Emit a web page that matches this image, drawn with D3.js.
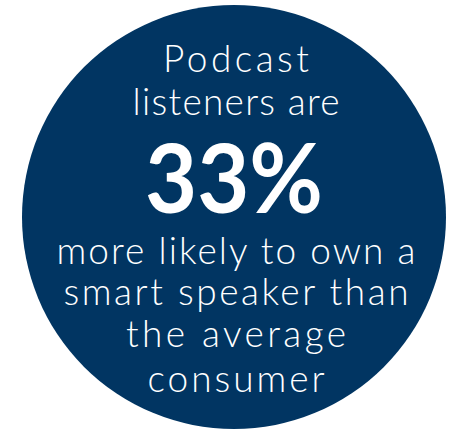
<!DOCTYPE html>
<html>
<head>
<meta charset="utf-8">
<script src="https://cdn.jsdelivr.net/npm/d3@7"></script>
<style>
  html, body { margin: 0; padding: 0; background: #ffffff; }
  svg { display: block; }
</style>
</head>
<body>
<script>
// ---- data ----
const topLines = ["Podcast", "listeners are"];
const statValue = 33;
const statSuffix = "%";
const bottomLines = ["more likely to own a", "smart speaker than", "the average", "consumer"];

// ---- layout (kept separate from data) ----
const W = 450, H = 431;
const circle = { cx: 234, cy: 217, r: 212 };
const textCenterX = 236;
const topBaselines = [72, 115];
const statBaseline = 213;
const bottomBaselines = [264, 305, 347, 392];
const topWidths = [146, 207];
const bottomWidths = [359, 345, 220, 177];
const statWidth = 178;
const navy = "#013562";

const svg = d3.select("body").append("svg")
  .attr("width", W).attr("height", H);

svg.append("circle")
  .attr("cx", circle.cx).attr("cy", circle.cy).attr("r", circle.r)
  .attr("fill", navy);

const font = "Lato, 'Open Sans', sans-serif";

function addLines(lines, baselines, widths) {
  svg.append("g").selectAll("text")
    .data(lines)
    .join("text")
    .attr("x", textCenterX)
    .attr("y", (d, i) => baselines[i])
    .attr("text-anchor", "middle")
    .attr("fill", "#ffffff")
    .style("font-family", font)
    .style("font-weight", 300)
    .style("font-size", "37px")
    .attr("textLength", (d, i) => widths[i])
    .attr("lengthAdjust", "spacing")
    .text(d => d);
}

addLines(topLines, topBaselines, topWidths);
addLines(bottomLines, bottomBaselines, bottomWidths);

svg.append("text")
  .attr("x", 234)
  .attr("y", statBaseline)
  .attr("text-anchor", "middle")
  .attr("fill", "#ffffff")
  .style("font-family", font)
  .style("font-weight", 700)
  .style("font-size", "95px")
  .attr("textLength", statWidth)
  .attr("lengthAdjust", "spacingAndGlyphs")
  .text(d3.format("d")(statValue) + statSuffix);
</script>
</body>
</html>
